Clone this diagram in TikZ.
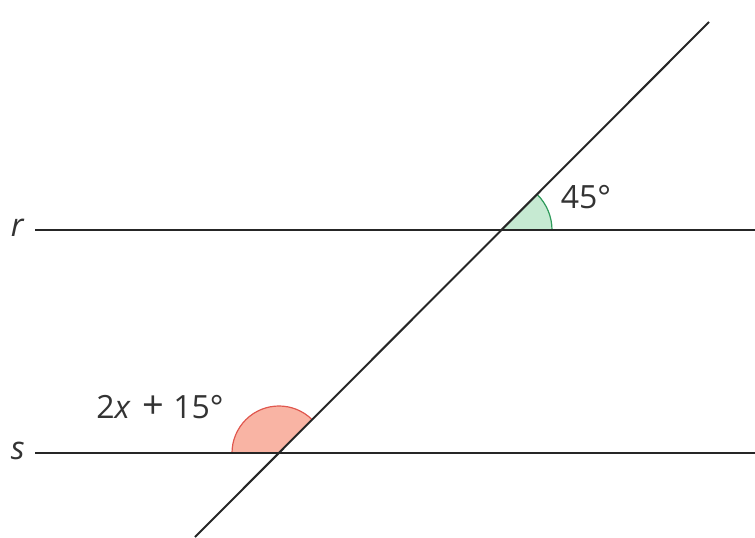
\documentclass[tikz,border=0pt]{standalone}
\usepackage{fontspec}
\setmainfont{Open Sans}
\usetikzlibrary{positioning,calc}
\definecolor{angGreenFill}{HTML}{C6EAD2}
\definecolor{angGreenLine}{HTML}{2E9A5A}
\definecolor{angRedFill}{HTML}{F9B4A4}
\definecolor{angRedLine}{HTML}{E0584F}
\tikzset{%
  line/.style={draw=black!85, line width=1pt},
  lbl/.style={font=\fontsize{16}{19}\selectfont, text=black!80, inner sep=0pt},
  arcline/.style={line width=0.6pt}%
}
\begin{document}
\begin{tikzpicture}[x=0.5pt,y=0.5pt]
\useasboundingbox (0,0) rectangle (755,537);

% Points on the lines
\coordinate (rL) at (35,307);
\coordinate (rR) at (755,307);
\coordinate (sL) at (35,84);
\coordinate (sR) at (755,84);
\coordinate (tB) at (195,0);
\coordinate (tT) at (709,515);
\coordinate (P) at (502,307);
\coordinate (Q) at (279,84);

% Angle marks
\fill[angGreenFill] (P) -- ++(0:50) arc[start angle=0,end angle=45,radius=50] -- cycle;
\draw[angGreenLine, arcline] ($(P)+(0:50)$) arc[start angle=0,end angle=45,radius=50];
\fill[angRedFill] (Q) -- ++(45:47) arc[start angle=45,end angle=180,radius=47] -- cycle;
\draw[angRedLine, arcline] ($(Q)+(45:47)$) arc[start angle=45,end angle=180,radius=47];

% Lines
\draw[line] (rL) -- (rR);
\draw[line] (sL) -- (sR);
\draw[line] (tB) -- (tT);

% Labels
\node[lbl, anchor=east] (rname) at (25,309) {\textit{r}};
\node[lbl, anchor=east] (sname) at (25,86) {\textit{s}};
\node[lbl] (ang45) at (586,340) {45°};
\node[lbl] (angexpr) at (160,130) {2\textit{x}\hspace{0.35em}{\fontsize{19}{19}\selectfont +}\hspace{0.3em}15°};
\end{tikzpicture}
\end{document}
